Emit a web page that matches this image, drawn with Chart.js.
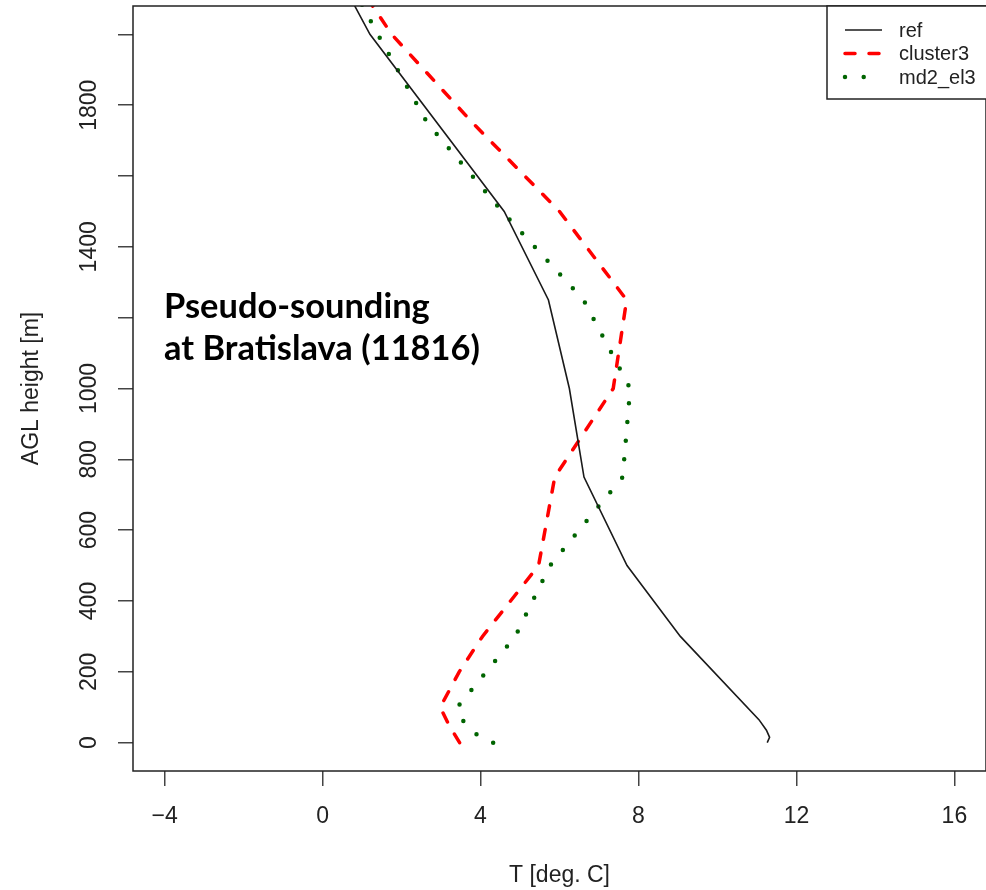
<!DOCTYPE html>
<html>
<head>
<meta charset="utf-8">
<title>Pseudo-sounding at Bratislava (11816)</title>
<script src="https://cdn.jsdelivr.net/npm/chart.js@4.4.1/dist/chart.umd.min.js"></script>
<style>
    html, body { margin: 0; padding: 0; background: #fff; }
    #wrap { width: 986px; height: 890px; }
</style>
</head>
<body>
<div id="wrap"><canvas id="sounding" width="986" height="890"></canvas></div>
<script>
// Temperature profiles (height AGL in m, temperature in deg C)
const refHeight = [0, 15, 35, 65, 300, 500, 750, 1000, 1250, 1500, 2000, 2100];
const refTemp   = [11.26, 11.32, 11.24, 11.05, 9.06, 7.71, 6.62, 6.25, 5.72, 4.60, 1.20, 0.72];

const clusterHeight = [0, 50, 100, 200, 300, 400, 500, 750, 1000, 1250, 1500, 1750, 2000, 2100];
const clusterTemp   = [3.47, 3.20, 2.98, 3.46, 4.05, 4.76, 5.47, 5.88, 7.36, 7.70, 6.00, 3.80, 1.75, 1.15];

const mdHeight = [0, 25, 60, 100, 300, 500, 750, 1000, 1250, 1500, 1750, 2000, 2100];
const mdTemp   = [4.32, 3.88, 3.57, 3.41, 4.88, 5.76, 7.60, 7.79, 6.61, 4.55, 2.65, 1.40, 0.92];

const seriesNames = ['ref', 'cluster3', 'md2_el3'];

const xTicks = [-4, 0, 4, 8, 12, 16];
const yTicks = [0, 200, 400, 600, 800, 1000, 1200, 1400, 1600, 1800, 2000];
const yTickLabels = ['0', '200', '400', '600', '800', '1000', '', '1400', '', '1800', ''];

const titleLines = ['Pseudo-sounding', 'at Bratislava (11816)'];

const AXIS_FONT = { family: '"Liberation Sans", Arial, sans-serif', size: 23 };

const toPoints = (heights, temps) => heights.map((h, i) => ({ x: temps[i], y: h }));

// plot frame, like R's box()
const frameBox = {
    id: 'frameBox',
    afterDatasetsDraw(chart) {
        const { ctx, chartArea: a } = chart;
        ctx.save();
        ctx.strokeStyle = '#222';
        ctx.lineWidth = 1.5;
        ctx.strokeRect(a.left, a.top, a.right - a.left, a.bottom - a.top);
        ctx.restore();
    }
};

// boxed legend in the top-right corner
const boxLegend = {
    id: 'boxLegend',
    afterDraw(chart) {
        const { ctx, chartArea: a } = chart;
        const left = 827, top = a.top, bottom = 99;
        ctx.save();
        ctx.fillStyle = '#fff';
        ctx.fillRect(left, top, a.right - left, bottom - top);
        ctx.strokeStyle = '#222';
        ctx.lineWidth = 1.5;
        ctx.strokeRect(left, top, a.right - left + 2, bottom - top);

        chart.data.datasets.forEach((ds, i) => {
            const y = 30 + i * 23.5;
            ctx.save();
            ctx.strokeStyle = ds.borderColor;
            ctx.lineWidth = ds.borderWidth;
            ctx.lineCap = ds.borderCapStyle || 'butt';
            ctx.setLineDash(ds.borderDash || []);
            ctx.beginPath();
            ctx.moveTo(left + 18, y);
            ctx.lineTo(left + 55, y);
            ctx.stroke();
            ctx.restore();

            ctx.fillStyle = '#222';
            ctx.font = '20px "Liberation Sans", Arial, sans-serif';
            ctx.textBaseline = 'middle';
            ctx.textAlign = 'left';
            ctx.fillText(ds.label, left + 72, y + 1);
        });
        ctx.restore();
    }
};

// bold annotation inside the plot
const plotNote = {
    id: 'plotNote',
    afterDraw(chart) {
        const { ctx } = chart;
        ctx.save();
        ctx.fillStyle = '#000';
        ctx.font = 'bold 34px Lato, "Open Sans", sans-serif';
        ctx.textBaseline = 'alphabetic';
        const w = ctx.measureText(titleLines[1]).width;
        const sx = 316 / w;
        ctx.translate(164, 0);
        ctx.scale(sx, 1);
        ctx.fillText(titleLines[0], 0, 318);
        ctx.fillText(titleLines[1], 0, 360);
        ctx.restore();
    }
};

const ctx = document.getElementById('sounding');

new Chart(ctx, {
    type: 'scatter',
    data: {
        datasets: [
            {
                label: seriesNames[0],
                data: toPoints(refHeight, refTemp),
                showLine: true,
                borderColor: '#1a1a1a',
                borderWidth: 1.6,
                pointRadius: 0,
                clip: 0
            },
            {
                label: seriesNames[1],
                data: toPoints(clusterHeight, clusterTemp),
                showLine: true,
                borderColor: '#ff0000',
                borderWidth: 3.5,
                borderDash: [10, 14],
                borderCapStyle: 'round',
                pointRadius: 0,
                clip: 0
            },
            {
                label: seriesNames[2],
                data: toPoints(mdHeight, mdTemp),
                showLine: true,
                borderColor: '#006400',
                borderWidth: 4.5,
                borderDash: [0, 18.7],
                borderCapStyle: 'round',
                pointRadius: 0,
                clip: 0
            }
        ]
    },
    options: {
        responsive: false,
        animation: false,
        devicePixelRatio: 1,
        layout: { padding: { top: 6, right: 0, bottom: 0, left: 0 } },
        plugins: {
            legend: { display: false },
            tooltip: { enabled: false }
        },
        scales: {
            x: {
                type: 'linear',
                position: 'bottom',
                min: -4.8,
                max: 16.8,
                afterBuildTicks: s => { s.ticks = xTicks.map(v => ({ value: v })); },
                afterFit: s => { s.height = 119; s.paddingLeft = 0; s.paddingRight = 0; },
                border: { display: false },
                grid: { drawOnChartArea: false, drawTicks: true, tickLength: 15, color: '#444', lineWidth: 1.5 },
                ticks: {
                    padding: 17,
                    color: '#222',
                    font: AXIS_FONT,
                    autoSkip: false,
                    maxRotation: 0,
                    callback: v => (v < 0 ? '\u2212' + Math.abs(v) : String(v))
                },
                title: { display: true, text: 'T [deg. C]', color: '#222', font: AXIS_FONT, padding: { top: 0, bottom: 1 } }
            },
            y: {
                type: 'linear',
                position: 'left',
                min: -80,
                max: 2080,
                afterBuildTicks: s => { s.ticks = yTicks.map(v => ({ value: v })); },
                afterFit: s => { s.width = 133; s.paddingTop = 0; s.paddingBottom = 0; },
                border: { display: false },
                grid: { drawOnChartArea: false, drawTicks: true, tickLength: 15, color: '#444', lineWidth: 1.5 },
                ticks: {
                    padding: 3,
                    color: '#222',
                    font: AXIS_FONT,
                    autoSkip: false,
                    minRotation: 90,
                    maxRotation: 90,
                    crossAlign: 'center',
                    callback: (v, i) => yTickLabels[yTicks.indexOf(v)] ?? ''
                },
                title: { display: true, text: 'AGL height [m]', color: '#222', font: AXIS_FONT, padding: { top: 18, bottom: 0 } }
            }
        }
    },
    plugins: [frameBox, boxLegend, plotNote]
});
</script>
</body>
</html>
